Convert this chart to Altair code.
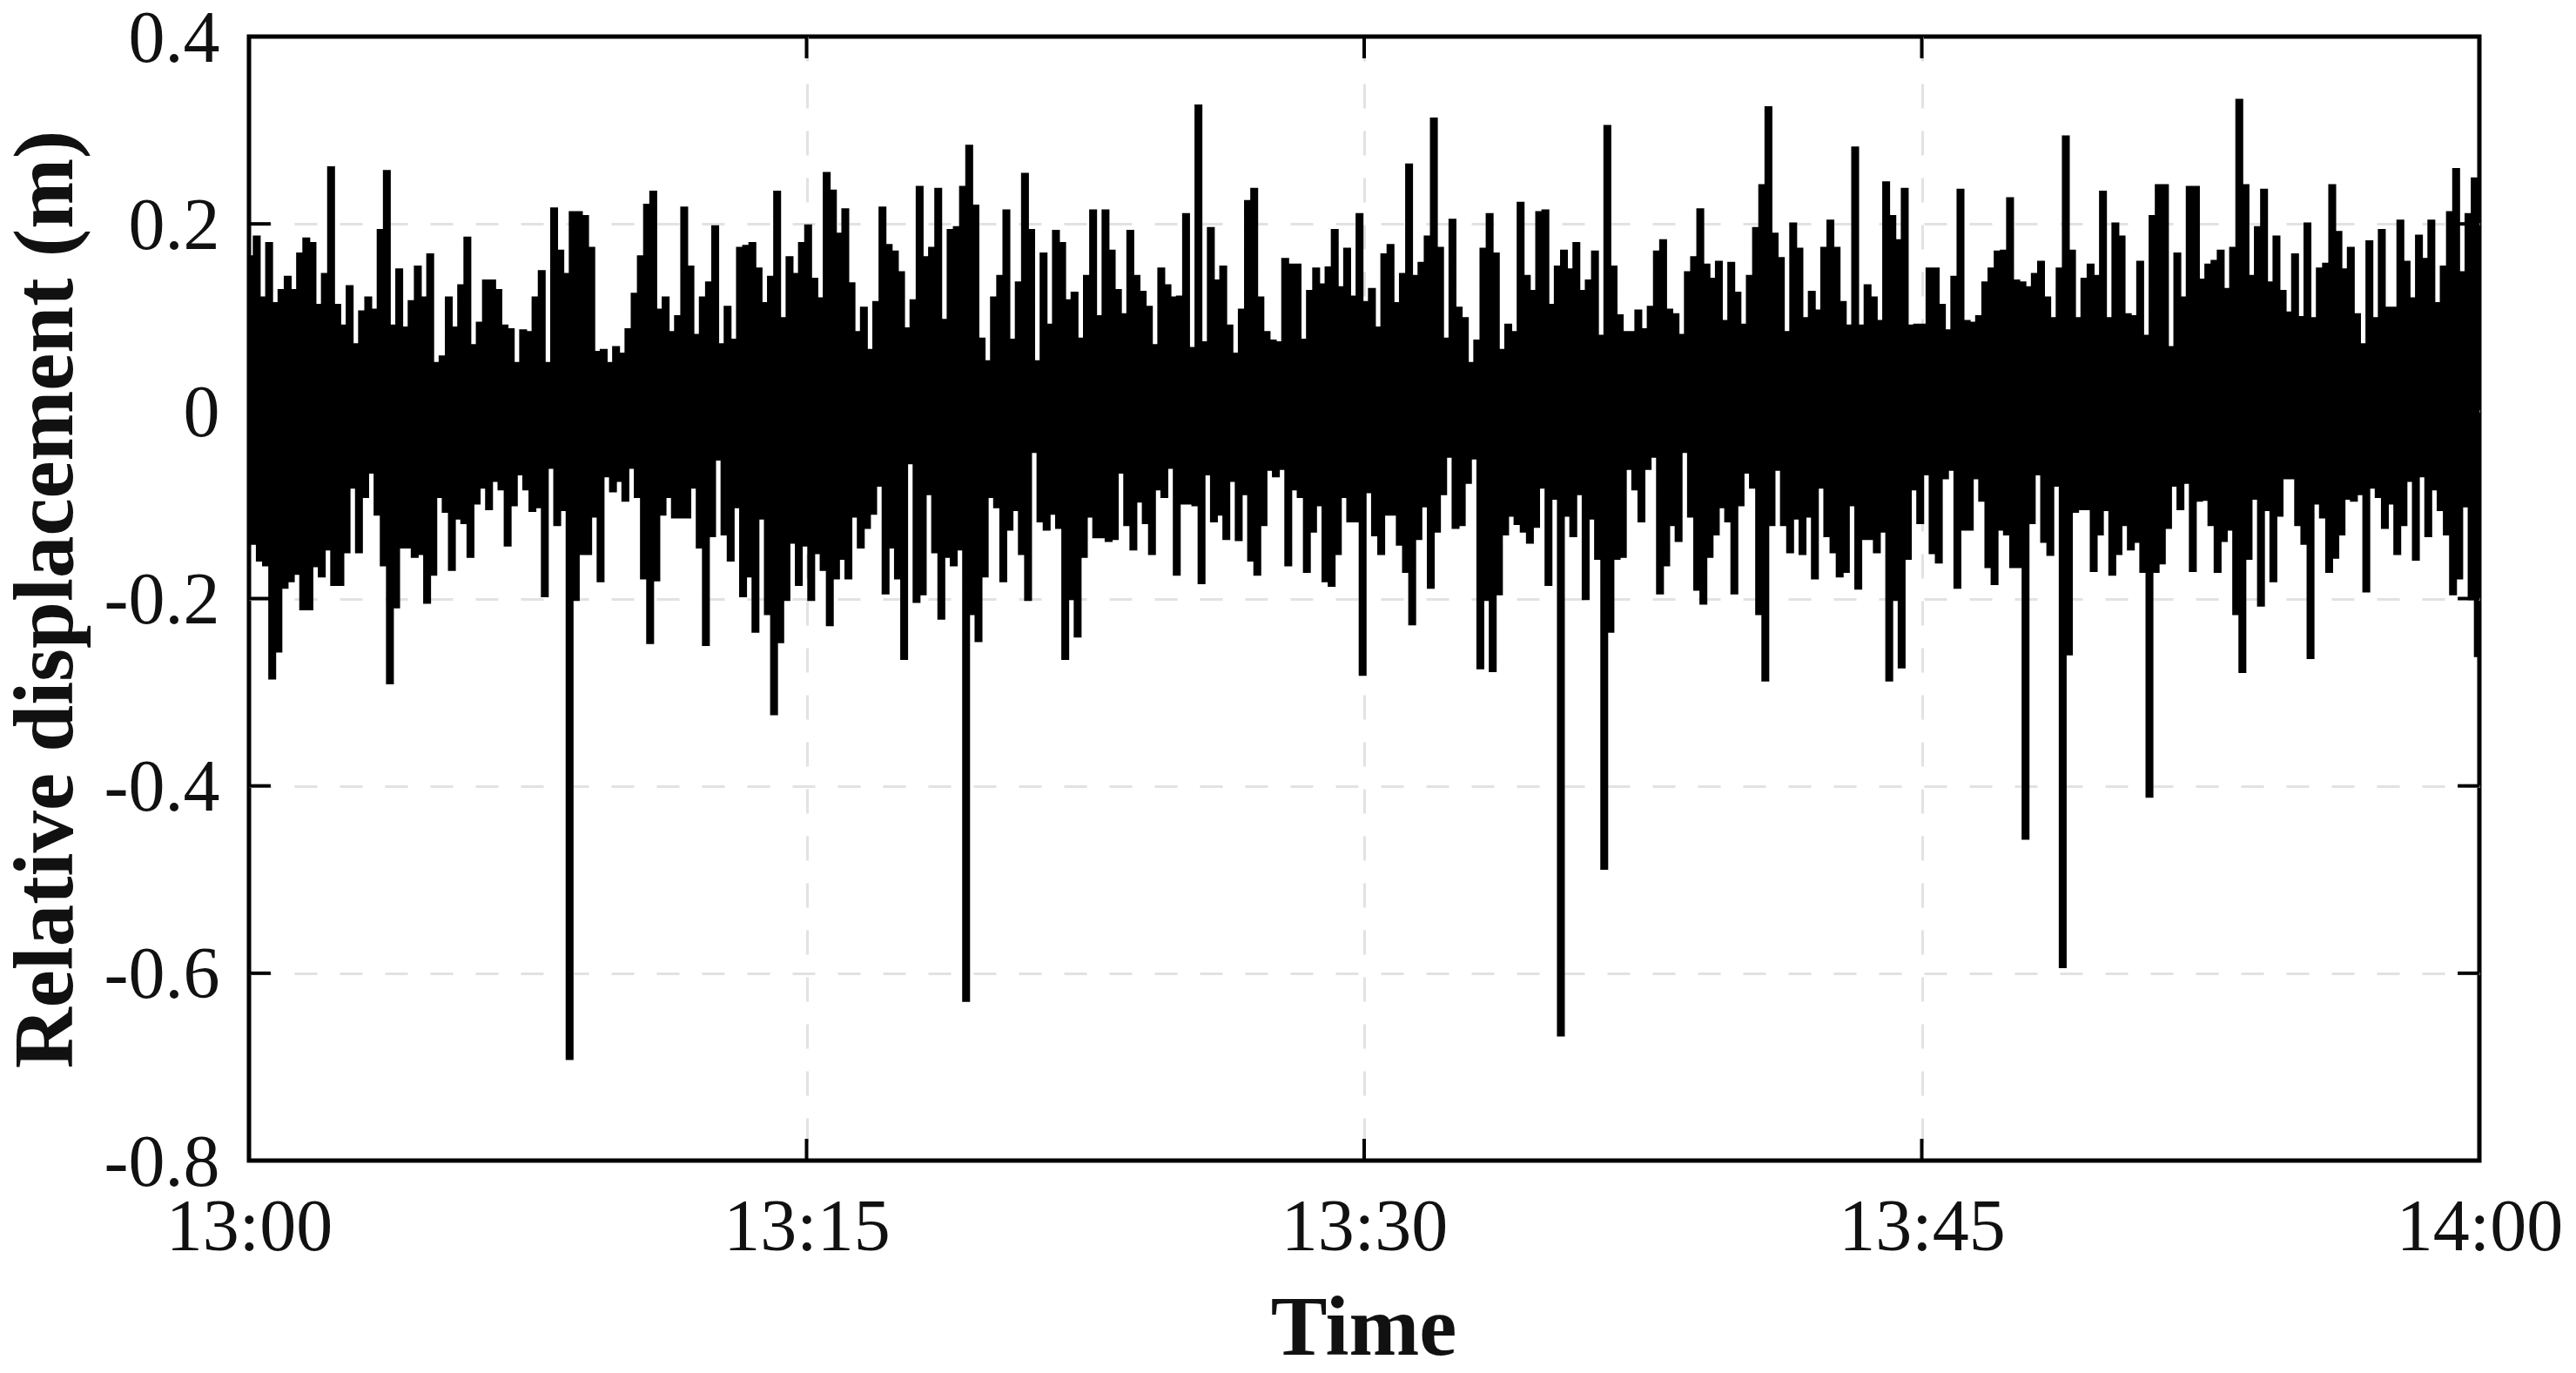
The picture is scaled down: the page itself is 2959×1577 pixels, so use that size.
import altair as alt
import pandas as pd

alt.data_transformers.disable_max_rows()

# Envelope of the record, one maximum and one minimum per 10 s, metres.
up_1 = [.164,.185,.12,.178,.114,.128,.142,.128,.167,.183,.178,.112,.145,.259,.112,.09,.132,.07,.105,.12,.107,.192,.255,.09,.15,.088,.116,.153,.12,.166,.05,.057,.12,.088,.133,.184,.069,.093,.138,.138,.128,.09,.086,.05,.085]
lo_1 = [-.14,-.158,-.163,-.284,-.255,-.187,-.18,-.172,-.21,-.21,-.164,-.175,-.146,-.184,-.184,-.149,-.08,-.149,-.09,-.064,-.109,-.163,-.289,-.208,-.144,-.144,-.154,-.151,-.203,-.173,-.09,-.106,-.168,-.113,-.118,-.154,-.097,-.08,-.103,-.073,-.082,-.142,-.099,-.066,-.082]
up_2 = [.083,.12,.148,.05,.215,.17,.145,.211,.211,.207,.173,.062,.064,.05,.067,.06,.086,.124,.164,.219,.233,.107,.12,.083,.1,.216,.153,.08,.12,.136,.196,.07,.11,.075,.173,.175,.178,.151,.114,.142,.233,.098,.163,.145,.178]
lo_2 = [-.105,-.101,-.196,-.059,-.12,-.104,-.69,-.2,-.151,-.151,-.111,-.18,-.068,-.084,-.073,-.094,-.059,-.09,-.177,-.246,-.179,-.109,-.09,-.112,-.112,-.112,-.08,-.144,-.248,-.132,-.05,-.13,-.158,-.101,-.196,-.175,-.234,-.113,-.215,-.322,-.245,-.2,-.139,-.184,-.142]
up_3 = [.197,.14,.119,.253,.234,.188,.214,.135,.083,.109,.064,.115,.216,.176,.169,.147,.087,.117,.238,.163,.173,.236,.096,.192,.195,.238,.282,.218,.076,.052,.12,.143,.213,.075,.136,.252,.192,.052,.167,.091,.191,.178,.117,.125,.076]
lo_3 = [-.2,-.15,-.168,-.227,-.177,-.156,-.177,-.111,-.144,-.123,-.108,-.078,-.193,-.144,-.177,-.263,-.054,-.202,-.194,-.087,-.149,-.22,-.154,-.163,-.146,-.628,-.215,-.244,-.175,-.09,-.101,-.18,-.125,-.104,-.151,-.2,-.042,-.116,-.125,-.108,-.123,-.263,-.199,-.239,-.154]
up_4 = [.143,.213,.1,.213,.17,.128,.102,.191,.143,.126,.11,.069,.151,.133,.12,.121,.209,.066,.325,.072,.194,.138,.153,.09,.06,.107,.223,.236,.12,.083,.074,.072,.161,.155,.155,.075,.127,.151,.134,.152,.192,.131,.172,.121,.209]
lo_4 = [-.111,-.133,-.133,-.137,-.135,-.064,-.12,-.146,-.095,-.118,-.151,-.082,-.09,-.059,-.173,-.097,-.097,-.099,-.182,-.066,-.116,-.109,-.135,-.073,-.136,-.087,-.158,-.173,-.12,-.061,-.068,-.06,-.163,-.082,-.09,-.17,-.127,-.099,-.18,-.185,-.151,-.09,-.116,-.116,-.28]
up_5 = [.115,.129,.088,.166,.176,.114,.145,.262,.143,.157,.185,.311,.173,.076,.203,.109,.098,.05,.074,.172,.209,.167,.064,.091,.083,.221,.143,.127,.211,.213,.112,.153,.17,.15,.178,.127,.138,.169,.079,.303,.153,.101,.083,.083,.106]
lo_5 = [-.085,-.131,-.151,-.109,-.109,-.141,-.17,-.226,-.135,-.1,-.187,-.127,-.087,-.047,-.123,-.12,-.075,-.049,-.273,-.2,-.276,-.194,-.13,-.11,-.119,-.127,-.139,-.122,-.08,-.184,-.092,-.665,-.11,-.132,-.087,-.199,-.113,-.156,-.487,-.234,-.156,-.154,-.06,-.082,-.116]
up_6 = [.086,.11,.169,.181,.107,.102,.08,.147,.163,.214,.155,.14,.158,.095,.157,.125,.091,.143,.194,.24,.323,.188,.162,.083,.199,.172,.098,.126,.106,.173,.202,.173,.115,.09,.28,.09,.133,.12,.095,.243,.207,.181,.236,.09,.091]
lo_6 = [-.06,-.047,-.193,-.163,-.12,-.137,-.042,-.111,-.189,-.204,-.154,-.13,-.101,-.116,-.193,-.099,-.064,-.08,-.215,-.286,-.12,-.061,-.12,-.149,-.113,-.151,-.111,-.177,-.08,-.132,-.149,-.175,-.17,-.099,-.188,-.135,-.135,-.149,-.127,-.286,-.2,-.272,-.156,-.082,-.118]
up_7 = [.091,.151,.151,.112,.085,.142,.235,.095,.093,.1,.136,.151,.169,.17,.226,.138,.136,.131,.145,.158,.12,.098,.151,.292,.17,.098,.14,.155,.143,.233,.098,.199,.185,.102,.1,.158,.079,.207,.24,.24,.067,.167,.12,.238,.238]
lo_7 = [-.066,-.15,-.16,-.07,-.061,-.187,-.125,-.125,-.07,-.094,-.165,-.183,-.125,-.13,-.165,-.165,-.455,-.118,-.066,-.138,-.152,-.078,-.592,-.258,-.106,-.103,-.103,-.169,-.13,-.104,-.173,-.151,-.12,-.146,-.138,-.17,-.41,-.17,-.161,-.123,-.078,-.103,-.075,-.169,-.094]
up_8 = [.139,.155,.159,.17,.129,.173,.331,.24,.143,.195,.235,.136,.185,.127,.104,.166,.099,.199,.098,.151,.156,.24,.19,.15,.173,.102,.07,.18,.098,.192,.109,.109,.202,.158,.119,.186,.161,.202,.114,.153,.211,.257,.147,.209,.247]
lo_8 = [-.093,-.12,-.17,-.137,-.125,-.215,-.277,-.156,-.092,-.206,-.104,-.18,-.11,-.07,-.07,-.12,-.14,-.262,-.097,-.112,-.17,-.155,-.13,-.092,-.094,-.087,-.191,-.08,-.09,-.123,-.097,-.151,-.12,-.073,-.157,-.068,-.132,-.082,-.104,-.13,-.194,-.177,-.1,-.199,-.26]

upper = up_1 + up_2 + up_3 + up_4 + up_5 + up_6 + up_7 + up_8
lower = lo_1 + lo_2 + lo_3 + lo_4 + lo_5 + lo_6 + lo_7 + lo_8
assert len(upper) == len(lower) == 360

x_tick_times = ["13:15", "13:30", "13:45"]
y_tick_values = [0.2, 0, -0.2, -0.4, -0.6]

DAY = pd.Timestamp("2020-01-01 13:00:00")
times, values = [], []
for i, (u, l) in enumerate(zip(upper, lower)):
    times += [DAY + pd.Timedelta(seconds=10 * i), DAY + pd.Timedelta(seconds=10 * i + 5)]
    values += [u, l]
times.append(DAY + pd.Timedelta(hours=1))
values.append(lower[-1])
series = pd.DataFrame({"t": [s.strftime("%Y-%m-%dT%H:%M:%S") for s in times], "v": values})


def dt(h, m, s=0):
    return alt.DateTime(year=2020, month="jan", date=1, hours=h, minutes=m, seconds=s)


FONT = "Liberation Serif"
x_scale = alt.Scale(domain=[dt(13, 0), dt(14, 0)], nice=False)
y_scale = alt.Scale(domain=[-0.8, 0.4], nice=False, zero=False)

x_axis = alt.Axis(
    values=[dt(13, 0), dt(13, 15), dt(13, 30), dt(13, 45), dt(14, 0)],
    format="%H:%M", title="Time", domain=False, ticks=False,
    grid=True, gridColor="#e2e2e2", gridWidth=3, gridDash=[28, 26],
    gridOpacity=alt.condition("minutes(datum.value) == 0", alt.value(0), alt.value(1)),
    labelFont=FONT, labelFontSize=84, labelColor="#111", labelPadding=36,
    labelOverlap=False, labelFlush=False, labelLimit=500,
    titleFont=FONT, titleFontSize=97, titleFontWeight="bold", titleColor="#111",
    titleX=1280, titleY=222, titleBaseline="alphabetic",
)
y_axis = alt.Axis(
    values=[0.4, 0.2, 0, -0.2, -0.4, -0.6, -0.8],
    labelExpr="datum.value == 0 ? '0' : replace(format(datum.value, '.1f'), '−', '-')",
    title="Relative displacement (m)", domain=False, ticks=False,
    grid=True, gridColor="#e2e2e2", gridWidth=3, gridDash=[26, 26],
    gridOpacity=alt.condition("datum.value == 0.4 || datum.value == -0.8", alt.value(0), alt.value(1)),
    labelFont=FONT, labelFontSize=84, labelColor="#111", labelPadding=34,
    labelOverlap=False, labelFlush=False, labelLimit=500, labelOffset=3,
    titleFont=FONT, titleFontSize=97, titleFontWeight="bold", titleColor="#111",
    titleAngle=270, titleX=-204, titleY=646, titleAlign="center", titleBaseline="alphabetic",
    titleLimit=1400,
)

line = alt.Chart(series).mark_line(color="black", strokeWidth=5.5, interpolate="step-after", clip=False).encode(
    x=alt.X("t:T", scale=x_scale, axis=x_axis),
    y=alt.Y("v:Q", scale=y_scale, axis=y_axis),
)

# Inward tick marks on all four sides of the box.
TICK_Y = 0.0232
TICK_T = pd.Timedelta(seconds=35)
x_rows = []
for label in x_tick_times:
    t = pd.Timestamp("2020-01-01 " + label + ":00").strftime("%Y-%m-%dT%H:%M:%S")
    x_rows += [{"t": t, "y": -0.8, "y2": -0.8 + TICK_Y}, {"t": t, "y": 0.4, "y2": 0.4 - TICK_Y}]
y_rows = []
END = DAY + pd.Timedelta(hours=1)
for v in y_tick_values:
    y_rows += [
        {"v": v, "t": DAY.strftime("%Y-%m-%dT%H:%M:%S"), "t2": (DAY + TICK_T).strftime("%Y-%m-%dT%H:%M:%S")},
        {"v": v, "t": END.strftime("%Y-%m-%dT%H:%M:%S"), "t2": (END - TICK_T).strftime("%Y-%m-%dT%H:%M:%S")},
    ]
x_ticks = alt.Chart(pd.DataFrame(x_rows)).mark_rule(color="black", strokeWidth=4).encode(
    x=alt.X("t:T", scale=x_scale, axis=x_axis),
    y=alt.Y("y:Q", scale=y_scale, axis=y_axis),
    y2="y2:Q",
)
y_ticks = alt.Chart(pd.DataFrame(y_rows)).mark_rule(color="black", strokeWidth=4).encode(
    x=alt.X("t:T", scale=x_scale, axis=x_axis),
    x2="t2:T",
    y=alt.Y("v:Q", scale=y_scale, axis=y_axis),
)

chart = (
    alt.layer(line, x_ticks, y_ticks)
    .properties(
        width=2562, height=1291,
        autosize=alt.AutoSizeParams(type="none"),
        padding={"left": 278, "top": 34, "right": 100, "bottom": 235},
        background="white",
    )
    .configure_view(stroke="black", strokeWidth=5)
)

chart.save("out.html", embed_options={"renderer": "svg", "actions": False})
